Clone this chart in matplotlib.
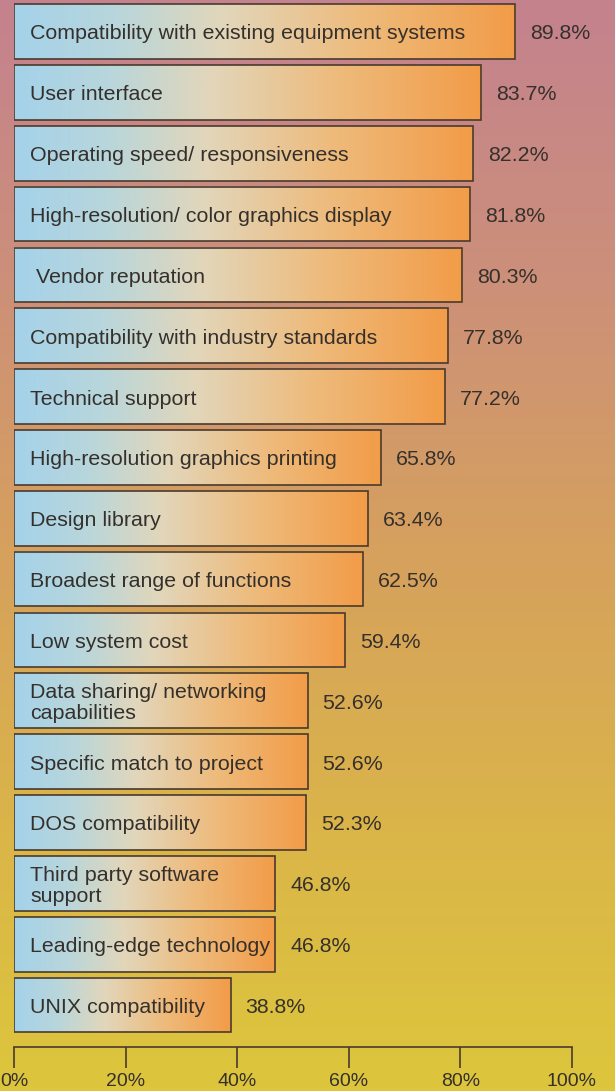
import numpy as np
import matplotlib
matplotlib.use("Agg")
import matplotlib.pyplot as plt
from matplotlib.colors import LinearSegmentedColormap

labels = [
    "Compatibility with existing equipment systems",
    "User interface",
    "Operating speed/ responsiveness",
    "High-resolution/ color graphics display",
    " Vendor reputation",
    "Compatibility with industry standards",
    "Technical support",
    "High-resolution graphics printing",
    "Design library",
    "Broadest range of functions",
    "Low system cost",
    "Data sharing/ networking\ncapabilities",
    "Specific match to project",
    "DOS compatibility",
    "Third party software\nsupport",
    "Leading-edge technology",
    "UNIX compatibility",
]
values = [89.8, 83.7, 82.2, 81.8, 80.3, 77.8, 77.2, 65.8, 63.4, 62.5,
          59.4, 52.6, 52.6, 52.3, 46.8, 46.8, 38.8]
ticks = [0, 20, 40, 60, 80, 100]

plt.rcParams['font.family'] = ['Liberation Sans', 'DejaVu Sans']
text_color = "#35302c"

fig = plt.figure(figsize=(6.15, 10.91), dpi=100)

# background gradient (pink at top -> tan -> yellow at bottom)
bg = fig.add_axes([0, 0, 1, 1])
bg_cmap = LinearSegmentedColormap.from_list(
    "bg", [(0.0, "#c4828e"), (0.25, "#cc8f7a"), (0.5, "#d6a05e"),
           (0.75, "#dab44a"), (1.0, "#ddc63c")])
bg.imshow(np.linspace(0, 1, 256).reshape(-1, 1), aspect="auto", cmap=bg_cmap,
          extent=[0, 1, 1, 0])
bg.set_axis_off()

left = 14 / 615
right = 572 / 615
bottom = 1 - 1047 / 1091
ax = fig.add_axes([left, bottom, right - left, 1 - bottom])
ax.patch.set_alpha(0)

bar_cmap = LinearSegmentedColormap.from_list(
    "bar", [(0.0, "#a4d2ea"), (0.2, "#b8d6dc"), (0.42, "#e2d6ba"),
            (0.7, "#eeba7a"), (1.0, "#f29c48")])

y = np.arange(len(values))
bars = ax.barh(y, values, height=0.9, facecolor="none", edgecolor="#4a3a2e",
               linewidth=1.2, zorder=3)
grad = np.linspace(0, 1, 256).reshape(1, -1)
for b in bars:
    x0, y0 = b.get_x(), b.get_y()
    w, h = b.get_width(), b.get_height()
    ax.imshow(grad, aspect="auto", cmap=bar_cmap,
              extent=[x0, x0 + w, y0 + h, y0], zorder=2, interpolation="bilinear")

for i, (lab, v) in enumerate(zip(labels, values)):
    ax.text(2.9, i + 0.04, lab, va="center", ha="left", fontsize=15.4,
            color=text_color, zorder=4, linespacing=1.1)
    ax.text(v + 2.7, i + 0.04, f"{v}%", va="center", ha="left", fontsize=15.4,
            color=text_color, zorder=4)

ax.set_xlim(0, 100)
ax.set_ylim(16.69, -0.518)
ax.set_yticks([])
ax.set_xticks(ticks)
ax.set_xticklabels([f"{t}%" for t in ticks], fontsize=14, color=text_color)
ax.tick_params(axis="x", direction="out", length=15, width=1.2, color="#4a3a2e", pad=4)
for s in ["top", "right", "left"]:
    ax.spines[s].set_visible(False)
ax.spines["bottom"].set_color("#4a3a2e")
ax.spines["bottom"].set_linewidth(1.2)

fig.savefig("out.png", dpi=100)
